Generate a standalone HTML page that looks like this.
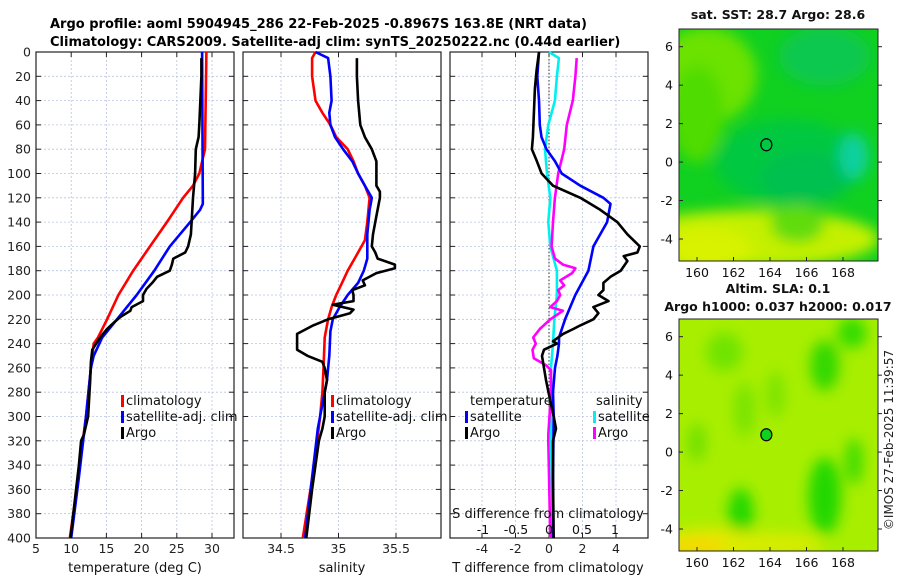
<!DOCTYPE html>
<html><head><meta charset="utf-8"><style>
html,body{margin:0;padding:0;background:#fff;}
svg{display:block;font-family:"DejaVu Sans","Liberation Sans",sans-serif;}
</style></head><body>
<svg id="fig" width="900" height="580" viewBox="0 0 900 580">
<defs>
<filter id="blur1" x="-50%" y="-50%" width="200%" height="200%"><feGaussianBlur stdDeviation="7"/></filter>
<clipPath id="clipM1"><rect x="679" y="29" width="199" height="232"/></clipPath>
<clipPath id="clipM2"><rect x="679" y="319" width="199" height="232"/></clipPath>
</defs>
<text x="50" y="28" font-size="13" font-weight="bold">Argo profile: aoml 5904945_286 22-Feb-2025 -0.8967S 163.8E (NRT data)</text>
<text x="50" y="46" font-size="13" font-weight="bold">Climatology: CARS2009. Satellite-adj clim: synTS_20250222.nc (0.44d earlier)</text>
<g id="panels"></g>
<g id="maps"></g>
<text transform="translate(893,440) rotate(-90)" text-anchor="middle" font-size="12" fill="#222">©IMOS 27-Feb-2025 11:39:57</text>
</svg>
<script>
// ---- data (depth in m) ----
const depthTicks = [0,20,40,60,80,100,120,140,160,180,200,220,240,260,280,300,320,340,360,380,400];
const tTicks = [5,10,15,20,25,30];
const sTicks = [34.5,35,35.5];
const dTTicks = [-4,-2,0,2,4];
const dSTicks = [-1,-0.5,0,0.5,1];
const dSTickLabels = ["-1","-0.5","0","0.5","1"];

const tClimDepth = [0,80,100,110,120,140,160,180,200,220,235,240,260,300,340,360,400];
const tClimVal   = [29.2,29.0,28.2,27.3,25.9,23.6,21.2,18.8,16.7,15.1,13.8,13.2,12.8,12.1,11.2,10.8,9.8];
const tSatDepth = [0,120,125,130,140,160,180,200,220,235,250,260,300,350,400];
const tSatVal   = [28.6,28.7,28.7,28.3,26.9,24.0,21.8,19.3,16.5,14.4,13.2,12.8,12.1,11.1,10.0];
const tArgoDepth = [5,20,60,70,80,100,120,150,160,165,170,175,180,185,190,195,200,205,210,213,218,222,228,235,245,255,270,290,300,310,315,320,340,360,400];
const tArgoVal   = [28.5,28.5,28.2,28.1,27.7,27.6,27.3,27.0,26.6,26.2,24.5,24.3,24.0,22.2,21.5,20.7,20.2,20.2,18.6,18.4,17.0,16.2,15.1,14.1,13.0,12.8,12.7,12.5,12.4,12.0,11.8,11.4,11.1,10.7,9.9];

const sClimDepth = [0,5,20,40,50,60,70,80,90,100,110,120,140,155,160,170,180,190,200,210,220,235,260,280,300,340,400];
const sClimVal   = [34.80,34.77,34.77,34.80,34.86,34.93,34.98,35.08,35.13,35.17,35.23,35.27,35.25,35.23,35.20,35.14,35.08,35.03,34.98,34.94,34.91,34.88,34.87,34.86,34.84,34.79,34.69];
const sSatDepth = [0,5,20,40,50,60,70,80,90,100,110,120,130,150,170,180,190,200,210,220,230,250,270,290,310,350,400];
const sSatVal   = [34.80,34.91,34.93,34.94,34.92,34.93,34.97,35.04,35.12,35.17,35.23,35.29,35.27,35.25,35.25,35.22,35.17,35.08,35.01,34.95,34.93,34.92,34.90,34.86,34.82,34.77,34.71];
const sArgoDepth = [5,20,40,60,70,80,90,100,110,115,120,135,150,160,165,170,175,178,182,188,192,196,200,205,208,212,215,220,225,232,240,245,250,255,260,270,280,300,310,320,340,360,400];
const sArgoVal   = [35.16,35.16,35.17,35.19,35.23,35.29,35.33,35.33,35.33,35.36,35.36,35.33,35.30,35.29,35.32,35.34,35.49,35.49,35.33,35.21,35.23,35.12,35.13,35.13,34.95,35.13,35.10,34.91,34.78,34.64,34.64,34.64,34.73,34.86,34.88,34.90,34.88,34.88,34.86,34.83,34.80,34.77,34.72];

const dTSatDepth = [0,20,40,60,70,80,90,100,110,120,125,140,160,180,200,220,235,240,250,260,280,300,350,400];
const dTSatVal   = [-0.6,-0.7,-0.6,-0.55,-0.45,-0.15,0.36,0.76,1.87,3.25,3.67,3.47,2.65,2.35,1.57,0.96,0.6,0.6,0.5,0.36,0.24,0.28,0.24,0.24];
const dTArgoDepth = [0,15,30,50,70,80,90,100,110,120,130,140,150,160,165,168,172,180,185,190,196,200,205,210,215,220,225,228,232,238,240,245,250,260,270,280,300,310,320,350,400];
const dTArgoVal   = [-0.6,-0.74,-0.84,-0.9,-0.96,-1.02,-0.72,-0.44,0.24,1.87,3.07,4.08,4.68,5.42,5.28,4.46,4.68,4.28,3.67,3.25,3.25,2.95,3.55,2.65,2.95,2.65,1.87,1.45,0.84,0.24,0.48,-0.3,-0.42,-0.3,-0.18,-0.03,0.28,0.42,0.24,0.24,0.28];
const dSSatDepth = [0,5,20,40,60,80,100,120,140,160,180,200,220,240,260,280,320,400];
const dSSatVal   = [0.0,0.15,0.12,0.09,-0.01,-0.06,-0.03,0.02,-0.01,0.02,0.12,0.12,0.08,0.06,0.03,0.03,0.03,0.06];
const dSArgoDepth = [5,20,40,60,80,100,120,140,160,170,175,178,182,188,192,196,200,205,210,213,220,228,235,240,245,252,258,262,280,315,320,400];
const dSArgoVal   = [0.42,0.40,0.36,0.27,0.23,0.14,0.09,0.06,0.04,0.09,0.21,0.40,0.35,0.17,0.23,0.14,0.17,0.12,0.02,0.21,0.02,-0.14,-0.24,-0.20,-0.25,-0.23,-0.04,0.03,0.03,-0.01,-0.01,0.02];

const map1LonTicks = [160,162,164,166,168];
const map1LatTicks = [6,4,2,0,-2,-4];
const argoLon = 163.8, argoLat = 0.9;

// ---- helpers ----
const NS = "http://www.w3.org/2000/svg";
function mk(tag, attrs, parent){ const e=document.createElementNS(NS,tag); for(const k in attrs) e.setAttribute(k,attrs[k]); parent.appendChild(e); return e; }
const Y0 = 52, Y1 = 538;
const yD = d => Y0 + d*(Y1-Y0)/400;
const panels = document.getElementById('panels');

function linScale(v0,p0,v1,p1){ return v => p0 + (v-v0)*(p1-p0)/(v1-v0); }

function drawPanel(name, x0, x1, xs, xticks, xlabels, showY){
  const g = mk('g',{},panels);
  
  
  depthTicks.forEach(d=>{
    const l = mk('line',{x1:x0,x2:x1,y1:yD(d),y2:yD(d),stroke:'#b8c4e0','stroke-width':0.8,'stroke-dasharray':'2,2'},g);
    
    
    mk('line',{x1:x0,x2:x0+5,y1:yD(d),y2:yD(d),stroke:'#222','stroke-width':1},g);
    mk('line',{x1:x1-5,x2:x1,y1:yD(d),y2:yD(d),stroke:'#222','stroke-width':1},g);
    if(showY){
      const t = mk('text',{x:x0-5,y:yD(d)+4.5,'text-anchor':'end','font-size':12.5,fill:'#222'},g);
      t.textContent = d;
      
      
    }
  });
  xticks.forEach((v,i)=>{
    const x = xs(v);
    const l = mk('line',{x1:x,x2:x,y1:Y0,y2:Y1,stroke:'#b8c4e0','stroke-width':0.8,'stroke-dasharray':'2,2'},g);
    
    
    mk('line',{x1:x,x2:x,y1:Y1-5,y2:Y1,stroke:'#222'},g);
    mk('line',{x1:x,x2:x,y1:Y0,y2:Y0+5,stroke:'#222'},g);
    const t = mk('text',{x:x,y:553,'text-anchor':'middle','font-size':12.5,fill:'#222'},g);
    t.textContent = xlabels[i];
    
    
  });
  const r = mk('rect',{x:x0,y:Y0,width:x1-x0,height:Y1-Y0,fill:'none',stroke:'#222','stroke-width':1.2},g);
  
  
  return g;
}
function line(g, xs, depths, vals, color, name){
  const pts = depths.map((d,i)=> xs(vals[i]).toFixed(1)+','+yD(d).toFixed(1)).join(' ');
  const p = mk('polyline',{points:pts,fill:'none',stroke:color,'stroke-width':2.6,'stroke-linejoin':'round'},g);
  
  
}
function label(g,x,y,txt,name,anchor,size){
  const t = mk('text',{x:x,y:y,'font-size':size||13,fill:'#111','text-anchor':anchor||'start'},g);
  t.textContent = txt;
  
  
  return t;
}
function legendItem(g,x,y,color,txt,name){
  const m = mk('rect',{x:x,y:y-10,width:3,height:12,fill:color},g);
  
  
  label(g,x+5,y,txt,name);
}

const xT = linScale(5,36,30,212);
const g1 = drawPanel('temperature-panel',36,234,xT,tTicks,tTicks.map(String),true);
line(g1,xT,tClimDepth,tClimVal,'#ff0000','temp-climatology-line');
line(g1,xT,tSatDepth,tSatVal,'#0000ff','temp-satellite-line');
line(g1,xT,tArgoDepth,tArgoVal,'#000000','temp-argo-line');
legendItem(g1,121,405,'#ff0000','climatology','legend-climatology');
legendItem(g1,121,421,'#0000ff','satellite-adj. clim','legend-satellite');
legendItem(g1,121,437,'#000000','Argo','legend-argo');
label(g1,135,572,'temperature (deg C)','x-axis-title-temperature','middle',13);

const xS = linScale(34.5,281,35.5,396);
const g2 = drawPanel('salinity-panel',243,441,xS,sTicks,sTicks.map(String),false);
line(g2,xS,sClimDepth,sClimVal,'#ff0000','sal-climatology-line');
line(g2,xS,sSatDepth,sSatVal,'#0000ff','sal-satellite-line');
line(g2,xS,sArgoDepth,sArgoVal,'#000000','sal-argo-line');
legendItem(g2,331,405,'#ff0000','climatology','legend-climatology');
legendItem(g2,331,421,'#0000ff','satellite-adj. clim','legend-satellite');
legendItem(g2,331,437,'#000000','Argo','legend-argo');
label(g2,342,572,'salinity','x-axis-title-salinity','middle',13);

const xDT = linScale(0,549,4,616);
const xDS = linScale(0,549,1,615);
const g3 = drawPanel('difference-panel',450,648,xDT,dTTicks,dTTicks.map(String),false);
const z = mk('line',{x1:xDT(0),x2:xDT(0),y1:Y0,y2:Y1,stroke:'#333','stroke-width':1,'stroke-dasharray':'1.5,2'},g3);


line(g3,xDS,dSSatDepth,dSSatVal,'#00f0f0','sdiff-satellite-line');
line(g3,xDS,dSArgoDepth,dSArgoVal,'#ff00ff','sdiff-argo-line');
line(g3,xDT,dTSatDepth,dTSatVal,'#0000ff','tdiff-satellite-line');
line(g3,xDT,dTArgoDepth,dTArgoVal,'#000000','tdiff-argo-line');
label(g3,470,405,'temperature','legend-temperature-heading');
label(g3,596,405,'salinity','legend-salinity-heading');
legendItem(g3,465,421,'#0000ff','satellite','legend-tdiff-satellite');
legendItem(g3,465,437,'#000000','Argo','legend-tdiff-argo');
legendItem(g3,593,421,'#00f0f0','satellite','legend-sdiff-satellite');
legendItem(g3,593,437,'#ff00ff','Argo','legend-sdiff-argo');
label(g3,548,518,'S difference from climatology','s-axis-title','middle',13);
dSTicks.forEach((v,i)=>{ label(g3,xDS(v),534,dSTickLabels[i],'s-tick-label','middle',12.5); });
label(g3,548,572,'T difference from climatology','x-axis-title-tdiff','middle',13);

const maps = document.getElementById('maps');
function drawMap(name, top, title1, title2, blobs, base, lat6y, latm4y){
  const g = mk('g',{},maps);
  
  
  const lx = linScale(160,697,168,843);
  const ly = linScale(6,lat6y,-4,latm4y);
  const cg = mk('g',{'clip-path':'url(#clip'+(name==='sst-map'?'M1':'M2')+')'},g);
  mk('rect',{x:679,y:top,width:199,height:232,fill:base},cg);
  const bg = mk('g',{filter:'url(#blur1)'},cg);
  blobs.forEach(b=>{ mk('ellipse',{cx:lx(b[0]),cy:ly(b[1]),rx:b[2]*18.25,ry:b[3]*19.4,fill:b[4]},bg); });
  const c = mk('ellipse',{cx:lx(argoLon),cy:ly(argoLat),rx:5.5,ry:6,fill:name==='sst-map'?'none':'#10d020',stroke:'#000','stroke-width':1.2},g);
  
  
  mk('rect',{x:679,y:top,width:199,height:232,fill:'none',stroke:'#222','stroke-width':1},g);
  map1LonTicks.forEach(v=>{
    mk('line',{x1:lx(v),x2:lx(v),y1:top+232,y2:top+228,stroke:'#222'},g);
    label(g,lx(v),top+248,String(v),'lon-tick-label','middle',12.5);
  });
  map1LatTicks.forEach(v=>{
    mk('line',{x1:679,x2:683,y1:ly(v),y2:ly(v),stroke:'#222'},g);
    mk('line',{x1:878,x2:882,y1:ly(v),y2:ly(v),stroke:'#222'},g);
    label(g,673,ly(v)+4.5,String(v),'lat-tick-label','end',12.5);
  });
  const t1 = label(g,778,top-10 - (title2?16:0),title1,'map-title','middle',12.5);
  t1.setAttribute('font-weight','bold');
  if(title2){ const t2 = label(g,778,top-8,title2,'map-subtitle','middle',12.5); t2.setAttribute('font-weight','bold'); }
}
drawMap('sst-map',29,'sat. SST: 28.7 Argo: 28.6',null,[
  [160.5,4.5,2.8,2.5,'#6ce200'],[160,2.5,1.5,2.5,'#50dc00'],
  [163,-4,7,1.5,'#c4f000'],[160.5,-4.6,2.5,1.2,'#d8f200'],[165.5,-3.2,1.5,1,'#60dc10'],
  [165,0,4,2.2,'#00c840'],[166,-0.8,2.5,1.3,'#00c050'],
  [168.6,0.3,0.8,1.2,'#10d0a0'],[167,5.5,2.5,1.5,'#10c850']
],'#10d020',46.7,239);
drawMap('sla-map',319,'Altim. SLA: 0.1','Argo h1000: 0.037 h2000: 0.017',[
  [162.4,-3.2,0.7,1.3,'#20d800'],[167,-2.3,0.9,2.0,'#20d800'],[167,4.5,0.8,1.3,'#30d800'],
  [168.5,6.2,0.8,0.8,'#30dc00'],[161.5,5.2,1,1,'#70e400'],[162.6,2.2,0.6,1.4,'#7ae400'],
  [164.3,3,0.5,1.2,'#7ae400'],[168.6,-0.5,0.5,1.2,'#40dc00'],[160,0.5,0.5,1,'#70e000'],
  [161,-4.8,3,0.8,'#e8e800'],[164,-4.8,3,0.6,'#d8ec00'],[160,-5,1.5,0.5,'#f4d800']
],'#a8ee00',336.7,529);
</script>
</body></html>
